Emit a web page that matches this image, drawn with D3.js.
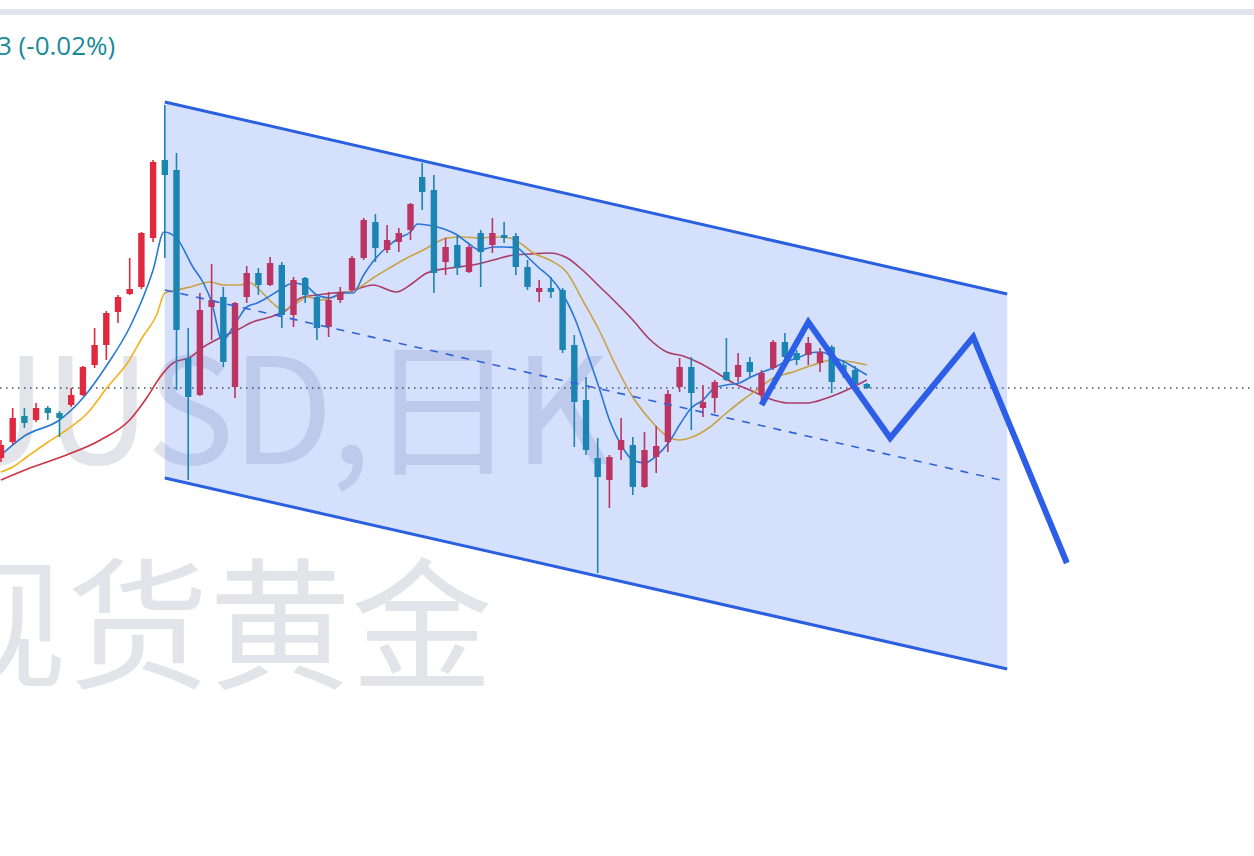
<!DOCTYPE html>
<html><head><meta charset="utf-8">
<script src="https://cdn.jsdelivr.net/npm/d3@7"></script>
<style>html,body{margin:0;padding:0;background:#fff;overflow:hidden}svg{display:block}</style>
</head><body><div id="chart"></div>
<script>
// ---- data (daily XAUUSD candles) ----
const opens  = [1942,1958,1984,1980,1992,1987,1995,2005,2035,2055,2088,2106,2113,2162,2240,2230,2042,2005,2093,2103,2013,2103,2127,2115,2135,2085,2122,2103,2073,2100,2110,2142,2178,2150,2158,2170,2223,2210,2138,2155,2128,2167,2155,2165,2164,2133,2108,2112,2110,2055,2000,1942,1920,1950,1955,1913,1943,1958,2013,2033,1992,2002,2028,2023,2038,2005,2032,2058,2047,2045,2037,2053,2035,2030,2016];
const highs  = [1960,1992,1992,1997,1994,1989,2012,2034,2072,2089,2105,2142,2168,2240,2295,2247,2072,2107,2136,2113,2098,2134,2132,2143,2138,2123,2123,2105,2108,2113,2144,2182,2186,2175,2172,2197,2237,2225,2162,2165,2155,2170,2182,2178,2167,2140,2120,2123,2112,2065,2023,1962,1945,1982,1963,1968,1974,2010,2042,2043,2015,2020,2062,2047,2043,2030,2060,2067,2050,2063,2052,2055,2040,2034,2017];
const lows   = [1938,1955,1972,1978,1980,1963,1993,2004,2032,2040,2077,2105,2111,2158,2142,2010,1920,2004,2060,2033,2002,2097,2105,2114,2072,2073,2097,2060,2063,2097,2108,2140,2138,2147,2148,2160,2190,2107,2125,2125,2127,2113,2147,2157,2125,2110,2098,2102,2047,1953,1945,1827,1892,1940,1905,1912,1927,1948,2008,1970,1983,1987,2019,2018,2023,2000,2030,2040,2035,2035,2028,2007,2022,2012,2011];
const closes = [1955,1982,1977,1992,1987,1982,2005,2033,2055,2087,2103,2111,2167,2238,2225,2070,2003,2090,2100,2038,2097,2127,2115,2137,2085,2120,2105,2072,2100,2108,2142,2180,2152,2160,2167,2196,2208,2127,2153,2132,2153,2148,2167,2162,2133,2113,2112,2108,2050,1998,1950,1923,1943,1960,1913,1950,1954,2006,2033,2007,1998,2018,2020,2035,2028,2027,2058,2043,2040,2057,2048,2018,2028,2016,2012];

// moving averages: [candle index, price]
const ma5 = [[0,1945],[2,1964],[5,1980],[7,2002],[9.06,2035],[11.1,2075],[13,2130],[13.93,2168],[15,2162],[16.4,2133],[17.3,2117],[18,2098],[18.9,2060],[20.2,2080],[21,2093],[21.9,2097],[22.7,2102],[23.8,2110],[25,2117],[26.2,2113],[27,2105],[28.1,2102],[29.2,2107],[30.1,2107],[31,2125],[31.9,2140],[33,2153],[34,2162],[35,2168],[35.6,2176],[36.4,2175],[37.3,2173],[38.1,2170],[39,2165],[39.9,2157],[40.9,2150],[42.1,2153],[42.9,2153],[44.1,2152],[45,2143],[45.9,2133],[46.9,2123],[47.9,2108],[49.1,2080],[50.1,2047],[51.1,2013],[52,1980],[53,1955],[54,1940],[55,1937],[56.1,1945],[57.1,1958],[58.1,1977],[59,1992],[60,2000],[61,2012],[62,2015],[63.1,2017],[64.1,2023],[65.1,2028],[66,2032],[67,2038],[68.1,2042],[69.1,2047],[70.1,2048],[71.1,2043],[72.1,2038],[73,2032],[74,2025]];
const ma10 = [[0,1928],[1,1933],[2.2,1943],[3.9,1957],[5.6,1970],[7.4,1987],[9.1,2013],[10.8,2037],[12.1,2063],[13.3,2085],[14,2107],[15,2110],[16.2,2113],[17.9,2118],[19,2115],[20.4,2115],[21.3,2117],[22.1,2110],[23.2,2097],[24.1,2090],[25.3,2097],[26.2,2103],[27.3,2100],[28.4,2103],[29.6,2108],[30.7,2113],[31.8,2122],[33.2,2132],[34.7,2142],[36.1,2150],[37.3,2158],[38.1,2162],[39.5,2163],[40.9,2162],[42.1,2163],[43.5,2162],[44.6,2155],[45.5,2147],[46.9,2140],[48.4,2127],[49.7,2100],[51.2,2068],[52.6,2033],[54,2003],[55.5,1980],[56.9,1964],[58,1960],[59.1,1963],[60.6,1973],[62,1987],[63.4,2000],[64.6,2010],[66,2022],[67.7,2028],[69.4,2035],[71.1,2040],[72.8,2038],[74,2035]];
const ma20 = [[0,1920],[2.7,1933],[5.6,1945],[8.5,1960],[11,1980],[12.5,2003],[13.6,2023],[14.7,2037],[16.2,2043],[17.3,2053],[18.7,2062],[20.2,2070],[21.5,2078],[23,2083],[24.4,2090],[25.6,2102],[27,2105],[28.4,2107],[29.6,2108],[30.7,2112],[31.8,2115],[33.8,2108],[35.2,2117],[36.4,2127],[38.4,2132],[40.3,2135],[42.1,2140],[43.8,2145],[45.2,2146],[46.9,2147],[48.4,2142],[49.7,2130],[51.2,2113],[52.6,2097],[54,2080],[55.5,2060],[56.9,2048],[58.3,2044],[59.7,2037],[61.2,2027],[62.6,2017],[64,2010],[65.5,2002],[67.2,1997],[68.9,1997],[70.6,2002],[72.3,2010],[74,2020]];

// drawings
const channelIdx = [14, 86];
const channelTop = [2298, 2106];
const channelBottom = [1922, 1731];
const zigIdx = [65, 69, 76, 83.1, 91.1];
const zigVal = [1995, 2078, 1962, 2063, 1837];
const lastPrice = 2012;
const changeLabel = "3 (-0.02%)";
const watermark1 = "XAUUSD,日K";
const watermark2 = "现货黄金";

// ---- drawing ----
const W = 1254, H = 856;
const UP = "#e0293f", DOWN = "#1a8ca3";
const svg = d3.select("#chart").append("svg").attr("width", W).attr("height", H);

const x = d3.scaleLinear().domain([0, 74]).range([1, 1 + 74 * 11.7]);
const y = d3.scaleLinear().domain([1800, 2300]).range([600, 100]);

svg.append("rect").attr("width", W).attr("height", H).attr("fill", "#ffffff");
svg.append("rect").attr("x", 0).attr("y", 9).attr("width", W).attr("height", 6).attr("fill", "#dfe4ee");

// watermarks
const wm = svg.append("g").attr("fill", "#e3e4ea").attr("font-family", "'Noto Sans CJK SC', 'Noto Sans', sans-serif");
wm.append("text").attr("x", 606).attr("y", 464).attr("text-anchor", "end").attr("font-size", 148)
  .attr("letter-spacing", -3).text(watermark1);
wm.append("text").attr("x", -75).attr("y", 678).attr("font-size", 142).text(watermark2);

// last price dotted line
svg.append("line").attr("x1", 0).attr("x2", W).attr("y1", y(lastPrice)).attr("y2", y(lastPrice))
  .attr("stroke", "#4a4f5a").attr("stroke-width", 1.5).attr("stroke-dasharray", "1.5,4.5");

// MAs
const line = d3.line().x(d => x(d[0])).y(d => y(d[1])).curve(d3.curveMonotoneX);
[[ma20, "#cc3444"], [ma10, "#f2b21c"], [ma5, "#2a7bd0"]].forEach(([d, c]) => {
  svg.append("path").attr("d", line(d)).attr("fill", "none").attr("stroke", c).attr("stroke-width", 1.6);
});

// candles
const idx = d3.range(opens.length);
const cg = svg.append("g");
cg.selectAll("line").data(idx).join("line")
  .attr("x1", i => x(i)).attr("x2", i => x(i))
  .attr("y1", i => y(highs[i])).attr("y2", i => y(lows[i]))
  .attr("stroke", i => closes[i] >= opens[i] ? UP : DOWN).attr("stroke-width", 1.6);
cg.selectAll("rect").data(idx).join("rect")
  .attr("x", i => x(i) - 3.2).attr("width", 6.4)
  .attr("y", i => y(Math.max(opens[i], closes[i])))
  .attr("height", i => Math.max(1.5, Math.abs(y(opens[i]) - y(closes[i]))))
  .attr("fill", i => closes[i] >= opens[i] ? UP : DOWN);

// channel
const x0 = x(channelIdx[0]), x1 = x(channelIdx[1]);
svg.append("path")
  .attr("d", `M${x0},${y(channelTop[0])}L${x1},${y(channelTop[1])}L${x1},${y(channelBottom[1])}L${x0},${y(channelBottom[0])}Z`)
  .attr("fill", "rgba(41,98,240,0.2)");
const mid = [(channelTop[0] + channelBottom[0]) / 2, (channelTop[1] + channelBottom[1]) / 2];
svg.append("line").attr("x1", x0).attr("x2", x1).attr("y1", y(mid[0])).attr("y2", y(mid[1]))
  .attr("stroke", "#2f62d8").attr("stroke-width", 1.6).attr("stroke-dasharray", "8,8");
[[channelTop], [channelBottom]].forEach(([c]) => {
  svg.append("line").attr("x1", x0).attr("x2", x1).attr("y1", y(c[0])).attr("y2", y(c[1]))
    .attr("stroke", "#2a5fe0").attr("stroke-width", 3);
});

// zigzag projection
svg.append("path").attr("d", d3.line()(zigIdx.map((d, i) => [x(d), y(zigVal[i])])))
  .attr("fill", "none").attr("stroke", "#2c5ee8").attr("stroke-width", 6).attr("stroke-linejoin", "miter");

// header text
svg.append("text").attr("x", -3).attr("y", 55).attr("font-size", 26)
  .attr("font-family", "'Open Sans', 'Noto Sans', sans-serif").attr("fill", "#1b8a98").text(changeLabel);
</script></body></html>
